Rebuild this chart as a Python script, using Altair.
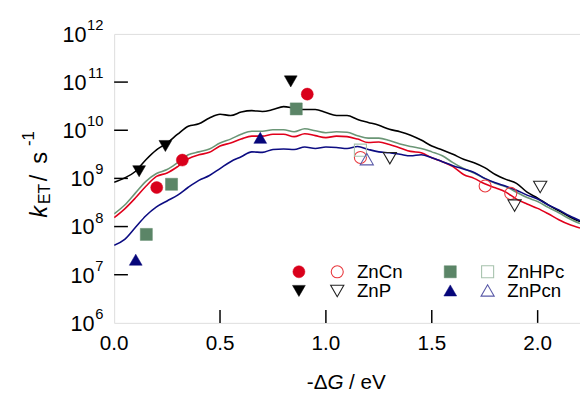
import altair as alt
import pandas as pd

# ---------------- data ----------------
x_grid = [0.00, 0.05, 0.10, 0.15, 0.20, 0.25, 0.30, 0.35, 0.40, 0.45,
          0.50, 0.55, 0.60, 0.65, 0.70, 0.75, 0.80, 0.85, 0.90, 0.95,
          1.00, 1.05, 1.10, 1.15, 1.20, 1.25, 1.30, 1.35, 1.40, 1.45,
          1.50, 1.55, 1.60, 1.65, 1.70, 1.75, 1.80, 1.85, 1.90, 1.95,
          2.00, 2.05, 2.10, 2.15, 2.20]

# log10(kET) of the calculated curves
znp_curve = [8.918, 9.010, 9.143, 9.388, 9.592, 9.735, 9.918, 10.082, 10.133, 10.255,
             10.333, 10.306, 10.378, 10.408, 10.388, 10.429, 10.490, 10.459, 10.429, 10.429,
             10.367, 10.306, 10.306, 10.224, 10.163, 10.102, 10.020, 9.969, 9.898, 9.796,
             9.673, 9.592, 9.500, 9.398, 9.327, 9.224, 9.082, 8.980, 8.898, 8.714,
             8.592, 8.449, 8.327, 8.204, 8.102]
znhpc_curve = [8.265, 8.449, 8.694, 8.939, 9.102, 9.184, 9.327, 9.490, 9.551, 9.612,
               9.735, 9.816, 9.918, 9.980, 9.980, 10.010, 10.010, 9.969, 10.031, 9.990,
               9.949, 9.969, 9.959, 9.888, 9.837, 9.837, 9.786, 9.714, 9.663, 9.622,
               9.551, 9.469, 9.327, 9.204, 9.112, 9.000, 8.898, 8.827, 8.714, 8.602,
               8.520, 8.398, 8.286, 8.163, 8.061]
zncn_curve = [8.184, 8.367, 8.592, 8.837, 9.041, 9.112, 9.245, 9.408, 9.490, 9.541,
              9.673, 9.735, 9.816, 9.878, 9.878, 9.918, 9.918, 9.867, 9.929, 9.888,
              9.847, 9.878, 9.867, 9.816, 9.745, 9.755, 9.704, 9.633, 9.561, 9.531,
              9.429, 9.347, 9.245, 9.082, 9.000, 8.888, 8.806, 8.714, 8.571, 8.469,
              8.378, 8.265, 8.143, 8.041, 7.969]
znpcn_curve = [7.612, 7.735, 7.980, 8.224, 8.408, 8.531, 8.653, 8.816, 8.959, 9.061,
               9.204, 9.347, 9.449, 9.551, 9.541, 9.602, 9.612, 9.602, 9.653, 9.622,
               9.653, 9.643, 9.622, 9.663, 9.602, 9.551, 9.531, 9.500, 9.469, 9.490,
               9.429, 9.347, 9.265, 9.194, 9.122, 9.000, 8.908, 8.837, 8.755, 8.653,
               8.571, 8.449, 8.347, 8.224, 8.122]

# experimental points: -dG (eV), log10(kET)
zncn_fill_x = [0.201, 0.322, 0.912]
zncn_fill_e = [8.81, 9.38, 10.75]
zncn_open_x = [1.163, 1.752, 1.873]
zncn_open_e = [9.435, 8.843, 8.688]
znp_fill_x = [0.118, 0.242, 0.834]
znp_fill_e = [9.149, 9.673, 11.014]
znp_open_x = [1.302, 1.891, 2.012]
znp_open_e = [9.42, 8.435, 8.822]
znhpc_fill_x = [0.152, 0.271, 0.860]
znhpc_fill_e = [7.837, 8.878, 10.443]
znhpc_open_x = [1.163]
znhpc_open_e = [9.586]
znpcn_fill_x = [0.102, 0.690]
znpcn_fill_e = [7.312, 9.843]
znpcn_open_x = [1.193]
znpcn_open_e = [9.40]

series_names = ["ZnP", "ZnHPc", "ZnCn", "ZnPcn"]
line_colors = ["#000000", "#6b9676", "#e0001b", "#0c0c82"]

x_tick_values = [0.5, 1.0, 1.5, 2.0]
x_label_values = [0.0, 0.5, 1.0, 1.5, 2.0]
x_label_texts = ["0.0", "0.5", "1.0", "1.5", "2.0"]
y_tick_exps = [7, 8, 9, 10, 11]
y_label_exps = [6, 7, 8, 9, 10, 11, 12]

FONT = "Liberation Sans"
W, H = 474, 294

# ---------------- build ----------------
xs = alt.Scale(domain=[0, 2.2], nice=False, zero=False)
ys = alt.Scale(type="log", domain=[1e6, 1e12], nice=False)

rows = []
for name, ex in zip(series_names, [znp_curve, znhpc_curve, zncn_curve, znpcn_curve]):
    for x, e in zip(x_grid, ex):
        rows.append({"series": name, "x": x, "k": 10 ** e})
curves = pd.DataFrame(rows)

lines = alt.Chart(curves).mark_line(strokeWidth=1.6, interpolate="monotone", clip=True).encode(
    x=alt.X("x:Q", scale=xs, axis=None),
    y=alt.Y("k:Q", scale=ys, axis=None),
    color=alt.Color("series:N", scale=alt.Scale(domain=series_names, range=line_colors), legend=None),
)


def pts(xv, ev, shape, filled, color, size):
    df = pd.DataFrame({"x": xv, "k": [10 ** e for e in ev]})
    if filled:
        m = alt.Chart(df).mark_point(shape=shape, filled=True, fill=color, stroke=color,
                                     strokeWidth=0.5, size=size, opacity=1)
    else:
        m = alt.Chart(df).mark_point(shape=shape, filled=False, stroke=color,
                                     strokeWidth=1.1, size=size, opacity=1)
    return m.encode(x=alt.X("x:Q", scale=xs, axis=None), y=alt.Y("k:Q", scale=ys, axis=None))


RED, BLK, GRN, NAVY = "#d9001b", "#000000", "#5b8567", "#06067a"
OP_RED, OP_BLK, OP_GRN, OP_NAVY = "#e8383d", "#222222", "#a7c2ad", "#5a5aa8"

markers = [
    pts(zncn_fill_x, zncn_fill_e, "circle", True, RED, 150),
    pts(zncn_open_x, zncn_open_e, "circle", False, OP_RED, 150),
    pts(znp_fill_x, znp_fill_e, "triangle-down", True, BLK, 170),
    pts(znp_open_x, znp_open_e, "triangle-down", False, OP_BLK, 180),
    pts(znhpc_fill_x, znhpc_fill_e, "square", True, GRN, 150),
    pts(znhpc_open_x, znhpc_open_e, "square", False, OP_GRN, 150),
    pts(znpcn_fill_x, znpcn_fill_e, "triangle-up", True, NAVY, 170),
    pts(znpcn_open_x, znpcn_open_e, "triangle-up", False, OP_NAVY, 180),
]

# inward ticks
xt = alt.Chart(pd.DataFrame({"t": x_tick_values})).mark_rule(color="black", strokeWidth=1.5).encode(
    x=alt.X("t:Q", scale=xs, axis=None), y=alt.value(H), y2=alt.value(H - 13))
yt = alt.Chart(pd.DataFrame({"k": [10 ** e for e in y_tick_exps]})).mark_rule(
    color="black", strokeWidth=1.5).encode(
    y=alt.Y("k:Q", scale=ys, axis=None), x=alt.value(0), x2=alt.value(14))

# x tick labels
xlab = alt.Chart(pd.DataFrame({"t": x_label_values, "s": x_label_texts})).mark_text(
    align="center", baseline="alphabetic", fontSize=21, font=FONT, color="black").encode(
    x=alt.X("t:Q", scale=xs, axis=None), y=alt.value(H + 28), text="s:N")

# y tick labels 10^n
lab = pd.DataFrame({"k": [10 ** e for e in y_label_exps],
                    "exp": [str(e) for e in y_label_exps],
                    "digits": [len(str(e)) for e in y_label_exps]})
exp_txt = alt.Chart(lab).mark_text(align="right", baseline="middle", fontSize=15, font=FONT,
                                   color="black", dy=-9).encode(
    y=alt.Y("k:Q", scale=ys, axis=None), x=alt.value(-11), text="exp:N")
base1 = alt.Chart(lab[lab.digits == 1]).mark_text(align="right", baseline="middle", fontSize=22,
                                                  font=FONT, color="black", dy=1).encode(
    y=alt.Y("k:Q", scale=ys, axis=None), x=alt.value(-20), text=alt.value("10"))
base2 = alt.Chart(lab[lab.digits == 2]).mark_text(align="right", baseline="middle", fontSize=22,
                                                  font=FONT, color="black", dy=1).encode(
    y=alt.Y("k:Q", scale=ys, axis=None), x=alt.value(-28), text=alt.value("10"))

one = pd.DataFrame({"a": [0]})


def txt(s, x, y, size, angle=0, italic=False, align="left", baseline="alphabetic", color="black"):
    kw = dict(align=align, baseline=baseline, fontSize=size, font=FONT, color=color)
    if angle:
        kw["angle"] = angle
    if italic:
        kw["fontStyle"] = "italic"
    return alt.Chart(one).mark_text(**kw).encode(x=alt.value(x), y=alt.value(y), text=alt.value(s))


def sym(shape, filled, color, x, y, size):
    if filled:
        m = alt.Chart(one).mark_point(shape=shape, filled=True, fill=color, stroke=color,
                                      strokeWidth=0.5, size=size, opacity=1)
    else:
        m = alt.Chart(one).mark_point(shape=shape, filled=False, stroke=color, strokeWidth=1.1,
                                      size=size, opacity=1)
    return m.encode(x=alt.value(x), y=alt.value(y))


r1, r2 = 242, 261.5
legend = [
    sym("circle", True, RED, 188, r1, 150), sym("circle", False, OP_RED, 227, r1, 150),
    txt("ZnCn", 247, r1 + 6.5, 19),
    sym("triangle-down", True, BLK, 188, r2, 170), sym("triangle-down", False, OP_BLK, 227, r2, 180),
    txt("ZnP", 247, r2 + 6.5, 19),
    sym("square", True, GRN, 342, r1, 150), sym("square", False, OP_GRN, 380, r1, 150),
    txt("ZnHPc", 400, r1 + 6.5, 19),
    sym("triangle-up", True, NAVY, 342, r2 - 0.5, 170), sym("triangle-up", False, OP_NAVY, 380, r2 - 0.5, 180),
    txt("ZnPcn", 400, r2 + 6.5, 19),
]

# axis titles
ytitle = [
    txt("k", -68, 187, 24, angle=270, italic=True),
    txt("ET", -65, 173, 16, angle=270),
    txt("/", -68, 150, 24, angle=270),
    txt("s", -68, 132, 24, angle=270),
    txt("-1", -82, 114, 17, angle=270),
]
xtitle = [
    txt("-Δ", 217, 361, 21, align="right"),
    txt("G", 217, 361, 21, italic=True),
    txt("/ eV", 239, 361, 21),
]

chart = alt.layer(lines, xt, yt, xlab, exp_txt, base1, base2, *markers, *legend, *ytitle, *xtitle).properties(
    width=W, height=H,
    autosize=alt.AutoSizeParams(type="none"),
    padding={"left": 108, "top": 23, "right": 0, "bottom": 70},
).configure_view(stroke="black", strokeWidth=2).configure(background="white")

chart.save("out.html", embed_options={"renderer": "svg", "actions": False})
